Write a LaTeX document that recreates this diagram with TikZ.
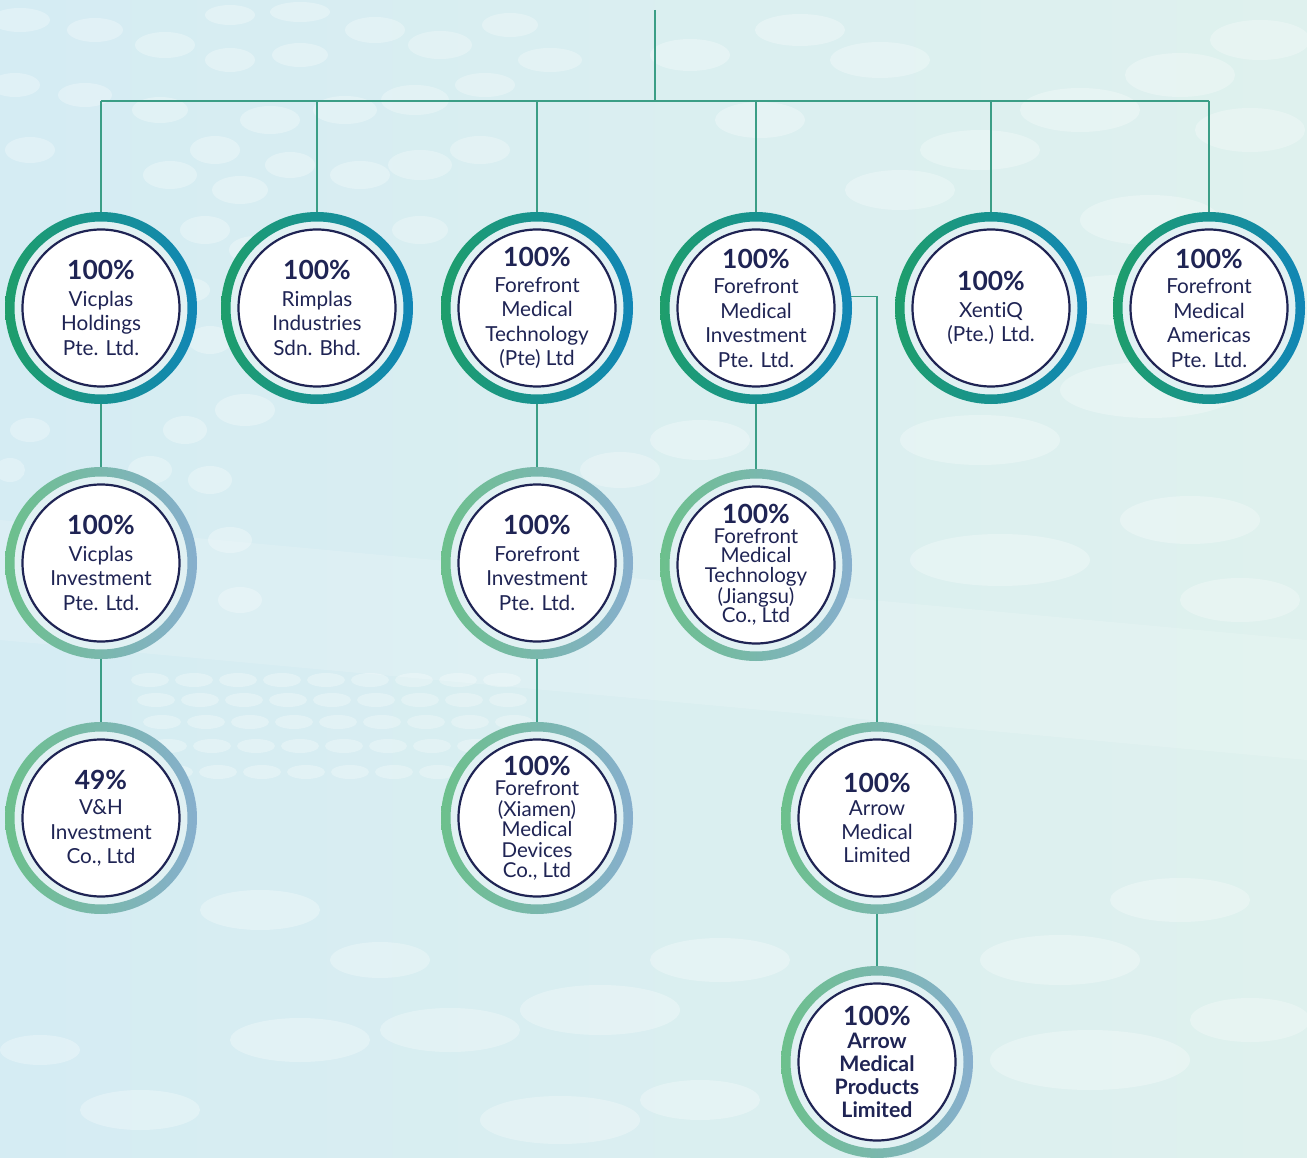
\documentclass[tikz,border=0pt]{standalone}
\usepackage{fontspec}
\setmainfont{Lato}[Ligatures={NoCommon}]
\usetikzlibrary{calc}
\pgfdeclarelayer{bg}
\pgfdeclarelayer{lines}
\pgfdeclarelayer{rings}
\pgfsetlayers{bg,lines,rings,main}

\definecolor{navy}{HTML}{1F2454}
\definecolor{topL}{HTML}{1E9E6B}
\definecolor{topR}{HTML}{1186B6}
\definecolor{lowL}{HTML}{6CC08C}
\definecolor{lowR}{HTML}{87AFCD}
\definecolor{linkc}{HTML}{3B9E86}
\definecolor{bgL}{HTML}{D5ECF3}
\definecolor{bgR}{HTML}{DFF1EE}
\definecolor{gapc}{HTML}{E1F1F3}

\tikzset{
  org/.style={circle, minimum size=192pt, inner sep=0pt, align=center,
    text=navy, font=\fontsize{20.7}{24.5}\selectfont},
  link/.style={draw=linkc, line width=1.3pt},
  blob/.style={fill=white, fill opacity=0.28},
}

% ring, light gap and navy disc behind a company node
\newcommand\ringfor[3]{%
  \begin{pgfonlayer}{rings}
    \fill[gapc] (#1.center) circle[radius=90pt];
    \path[left color=#2, right color=#3, even odd rule]
      (#1.center) circle[radius=96pt] (#1.center) circle[radius=86.5pt];
    \draw[navy, line width=2.2pt, fill=white] (#1.center) circle[radius=78.5pt];
  \end{pgfonlayer}}
\newcommand\pcline[1]{{\fontsize{26.4}{26}\selectfont\bfseries #1}}

\begin{document}
\begin{tikzpicture}[x=1pt, y=-1pt]
\useasboundingbox (0,0) rectangle (1307,1158);

% soft background with pale ellipses
\begin{pgfonlayer}{bg}
  \fill[left color=bgL, right color=bgR] (0,0) rectangle (1307,1158);
  \fill[white, opacity=0.15] (0,520) -- (1307,640) -- (1307,760) -- (0,640) -- cycle;
  \foreach \x/\y/\a/\b in {
    20/20/30/12, 95/30/28/12, 165/45/30/13, 230/15/25/10, 300/12/30/10,
    230/60/25/12, 300/55/28/12, 375/30/30/13, 440/45/32/14, 510/25/28/12,
    15/85/25/12, 85/95/27/12, 160/110/28/13, 215/150/25/14, 270/120/30/14,
    345/110/32/14, 415/100/34/15, 485/85/30/12, 550/60/32/12, 30/150/25/13,
    170/175/27/14, 240/190/28/14, 290/165/25/13, 360/175/30/14, 420/165/32/15,
    480/150/30/14, 205/230/25/14, 255/250/26/14, 420/230/28/14, 190/290/20/12,
    210/340/22/14, 245/410/30/16, 185/430/22/14, 150/470/22/14, 210/480/22/14,
    230/540/22/13, 240/600/22/13, 30/430/20/12, 10/470/15/12,
    1260/40/50/20, 1180/75/55/22, 1080/110/60/22, 980/150/60/20, 1250/130/55/22,
    900/190/55/20, 1150/220/70/25, 880/60/50/18, 800/30/45/16, 760/120/45/18,
    690/55/40/16, 1120/300/80/25, 1150/390/90/28, 980/440/80/25, 1000/560/90/26,
    1190/520/70/24, 1240/600/60/22, 700/440/50/20, 620/470/40/18,
    600/1010/80/25, 720/960/70/22, 450/1030/70/22, 260/910/60/20, 300/1040/70/22,
    140/1110/60/20, 1090/1060/100/30, 1060/960/80/25, 1180/900/70/22,
    1250/1020/60/22, 560/1120/80/24, 700/1100/60/20, 380/960/50/18, 40/1050/40/15}
    \fill[blob] (\x,\y) ellipse[x radius=\a pt, y radius=\b pt];
  \foreach \r/\y in {0/680, 1/700, 2/722, 3/746, 4/772}
    \foreach \k in {0,...,8}
      \fill[blob] ({150+\k*44+\r*6},\y) ellipse[x radius=19pt, y radius=7pt];
\end{pgfonlayer}

% top row
\node[org] (vh)  at (101,308)  {\pcline{100\%}\\[2pt]Vicplas\\Holdings\\Pte. Ltd.};
\node[org] (rim) at (317,308)  {\pcline{100\%}\\[2pt]Rimplas\\Industries\\Sdn. Bhd.};
\node[org] (fmt) at (537,308)  {\pcline{100\%}\\[1pt]Forefront\\Medical\\Technology\\(Pte) Ltd};
\node[org] (fmi) at (756,308)  {\pcline{100\%}\\[1pt]Forefront\\Medical\\Investment\\Pte. Ltd.};
\node[org] (xen) at (991,308)  {\pcline{100\%}\\[2pt]XentiQ\\(Pte.) Ltd.};
\node[org] (fma) at (1209,308) {\pcline{100\%}\\[1pt]Forefront\\Medical\\Americas\\Pte. Ltd.};

% second row
\node[org] (vi) at (101,563) {\pcline{100\%}\\[2pt]Vicplas\\Investment\\Pte. Ltd.};
\node[org] (fi) at (537,563) {\pcline{100\%}\\[2pt]Forefront\\Investment\\Pte. Ltd.};
\node[org, font=\fontsize{20.5}{19.5}\selectfont] (fj) at (756,565)
  {\pcline{100\%}\\Forefront\\Medical\\Technology\\(Jiangsu)\\Co., Ltd};

% third row
\node[org] (vhi) at (101,818) {\pcline{49\%}\\[1pt]V\&H\\Investment\\Co., Ltd};
\node[org, font=\fontsize{20.5}{20.5}\selectfont] (fx) at (537,818)
  {\pcline{100\%}\\Forefront\\(Xiamen)\\Medical\\Devices\\Co., Ltd};
\node[org, font=\fontsize{20.7}{23.5}\selectfont] (am) at (877,818)
  {\pcline{100\%}\\Arrow\\Medical\\Limited};

% fourth row
\node[org, font=\fontsize{21.3}{23}\selectfont\bfseries] (amp) at (877,1062)
  {\pcline{100\%}\\Arrow\\Medical\\Products\\Limited};

\ringfor{vh}{topL}{topR}
\ringfor{rim}{topL}{topR}
\ringfor{fmt}{topL}{topR}
\ringfor{fmi}{topL}{topR}
\ringfor{xen}{topL}{topR}
\ringfor{fma}{topL}{topR}
\ringfor{vi}{lowL}{lowR}
\ringfor{fi}{lowL}{lowR}
\ringfor{fj}{lowL}{lowR}
\ringfor{vhi}{lowL}{lowR}
\ringfor{fx}{lowL}{lowR}
\ringfor{am}{lowL}{lowR}
\ringfor{amp}{lowL}{lowR}

% connectors
\coordinate (root) at (655,10);
\coordinate (busL) at (101,101);
\coordinate (busR) at (1209,101);
\begin{pgfonlayer}{lines}
  \draw[link] (busL) -- (busR);
  \draw[link] (root) -- (root |- busL);
  \foreach \n in {vh, rim, fmt, fmi, xen, fma}
    \draw[link] (\n) -- (\n |- busL);
  \draw[link] (vh) -- (vi);
  \draw[link] (vi) -- (vhi);
  \draw[link] (fmt) -- (fi);
  \draw[link] (fi) -- (fx);
  \draw[link] (fmi) -- (fj);
  \draw[link] (fmi.7) -| (am);
  \draw[link] (am) -- (amp);
\end{pgfonlayer}
\end{tikzpicture}
\end{document}
